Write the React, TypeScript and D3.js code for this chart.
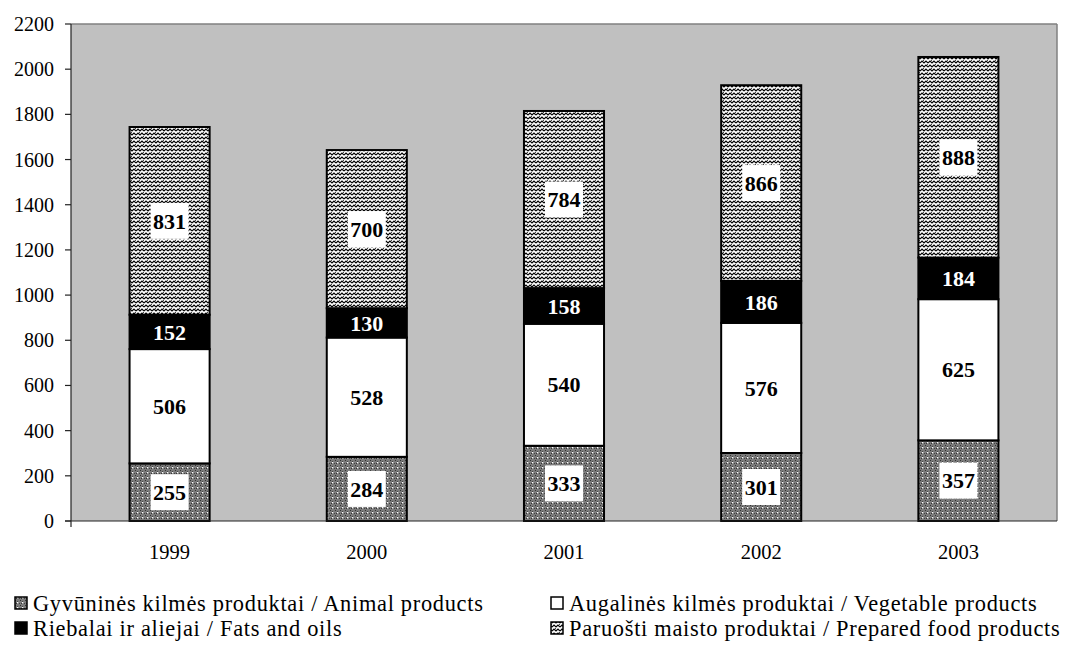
import React from "react";
import * as d3 from "d3";

const years = ["1999", "2000", "2001", "2002", "2003"];
const animal = [255, 284, 333, 301, 357];
const vegetable = [506, 528, 540, 576, 625];
const fats = [152, 130, 158, 186, 184];
const prepared = [831, 700, 784, 866, 888];
const yTicks = [0, 200, 400, 600, 800, 1000, 1200, 1400, 1600, 1800, 2000, 2200];

const seriesNames = [
  "Gyvūninės kilmės produktai / Animal products",
  "Augalinės kilmės produktai / Vegetable products",
  "Riebalai ir aliejai / Fats and oils",
  "Paruošti maisto produktai / Prepared food products",
];

const W = 1069;
const H = 646;
const left = 71;
const right = 1057;
const top = 24;
const bottom = 521;
const FONT = "'Liberation Serif', 'Times New Roman', serif";

const fills = ["url(#patAnimal)", "#ffffff", "#000000", "url(#patPrepared)"];
const labelText = ["#000", "#000", "#fff", "#000"];
const labelBox = ["#fff", "#fff", "#000", "#fff"];

export default function App() {
  const keys = ["animal", "vegetable", "fats", "prepared"];
  const rows = years.map((y, i) => ({
    year: y,
    animal: animal[i],
    vegetable: vegetable[i],
    fats: fats[i],
    prepared: prepared[i],
  }));
  const stack = d3.stack<any>().keys(keys)(rows);

  const x = d3.scaleBand<string>().domain(years).range([left, right]).paddingInner(0.594).paddingOuter(0.297);
  const y = d3.scaleLinear().domain([0, 2200]).range([bottom, top]);

  const legendPos = [
    { x: 15, y: 603 },
    { x: 551, y: 603 },
    { x: 15, y: 628 },
    { x: 551, y: 628 },
  ];

  return (
    <svg width={W} height={H} style={{ position: "absolute", left: 0, top: 0, background: "#fff" }}>
      <defs>
        <pattern id="patAnimal" width="5" height="5" patternUnits="userSpaceOnUse">
          <rect width="5" height="5" fill="#7a7a7a" />
          <rect x="0" y="0" width="1" height="1" fill="#333" />
          <rect x="2" y="1" width="1" height="1" fill="#444" />
          <rect x="4" y="3" width="1" height="1" fill="#444" />
          <rect x="1" y="3" width="1" height="1" fill="#333" />
          <rect x="2" y="2" width="1.3" height="1.3" fill="#fff" />
        </pattern>
        <pattern id="patPrepared" width="8" height="8" patternUnits="userSpaceOnUse">
          <rect width="8" height="8" fill="#ffffff" />
          <path d="M0,3 L2,1 L4,3 L6,1 L8,3" stroke="#000" strokeWidth="1.2" fill="none" />
          <path d="M0,7 L2,5 L4,7 L6,5 L8,7" stroke="#000" strokeWidth="1.2" fill="none" />
          <rect x="3" y="4" width="1" height="1" fill="#444" />
          <rect x="7" y="0" width="1" height="1" fill="#444" />
        </pattern>
      </defs>

      <rect x={left} y={top} width={right - left} height={bottom - top} fill="#c0c0c0" />
      <line x1={left} y1={top} x2={right} y2={top} stroke="#808080" strokeWidth={1.5} />
      <line x1={right} y1={top} x2={right} y2={bottom} stroke="#808080" strokeWidth={1.5} />

      {stack.map((s, si) =>
        s.map((d, i) => {
          const bx = x(years[i])!;
          const y0 = y(d[0]);
          const y1 = y(d[1]);
          return (
            <rect
              key={`${si}-${i}`}
              x={bx}
              y={y1}
              width={x.bandwidth()}
              height={y0 - y1}
              fill={fills[si]}
              stroke="#000"
              strokeWidth={2}
            />
          );
        })
      )}

      {stack.map((s, si) =>
        s.map((d, i) => {
          const cx = x(years[i])! + x.bandwidth() / 2;
          const cy = (y(d[0]) + y(d[1])) / 2;
          const v = d[1] - d[0];
          return (
            <g key={`l-${si}-${i}`}>
              {si !== 2 && (
                <rect x={cx - 19} y={cy - 18} width={38} height={36} fill={labelBox[si]} />
              )}
              <text
                x={cx}
                y={cy}
                dy="0.35em"
                textAnchor="middle"
                fontFamily={FONT}
                fontWeight="bold"
                fontSize={22}
                fill={labelText[si]}
              >
                {v}
              </text>
            </g>
          );
        })
      )}

      <line x1={left} y1={top} x2={left} y2={bottom + 6} stroke="#222" strokeWidth={1.2} />
      <line x1={left - 6} y1={bottom} x2={right} y2={bottom} stroke="#222" strokeWidth={1.2} />
      {yTicks.map((t) => (
        <g key={t}>
          <line x1={left - 6} x2={left} y1={y(t)} y2={y(t)} stroke="#222" strokeWidth={1.2} />
          <text
            x={54}
            y={y(t)}
            dy="0.35em"
            textAnchor="end"
            fontFamily={FONT}
            fontSize={20}
            fill="#000"
          >
            {t}
          </text>
        </g>
      ))}
      {years.map((yr) => (
        <text
          key={yr}
          x={x(yr)! + x.bandwidth() / 2}
          y={559}
          textAnchor="middle"
          fontFamily={FONT}
          fontSize={20.5}
          fill="#000"
        >
          {yr}
        </text>
      ))}

      {seriesNames.map((name, i) => (
        <g key={name}>
          <rect
            x={legendPos[i].x}
            y={legendPos[i].y - 6}
            width={12}
            height={12}
            fill={fills[i]}
            stroke="#000"
            strokeWidth={1.5}
          />
          <text
            x={legendPos[i].x + 18}
            y={legendPos[i].y}
            dy="0.35em"
            fontFamily={FONT}
            fontSize={22.4}
            letterSpacing={0.7}
            fill="#000"
          >
            {name}
          </text>
        </g>
      ))}
    </svg>
  );
}
